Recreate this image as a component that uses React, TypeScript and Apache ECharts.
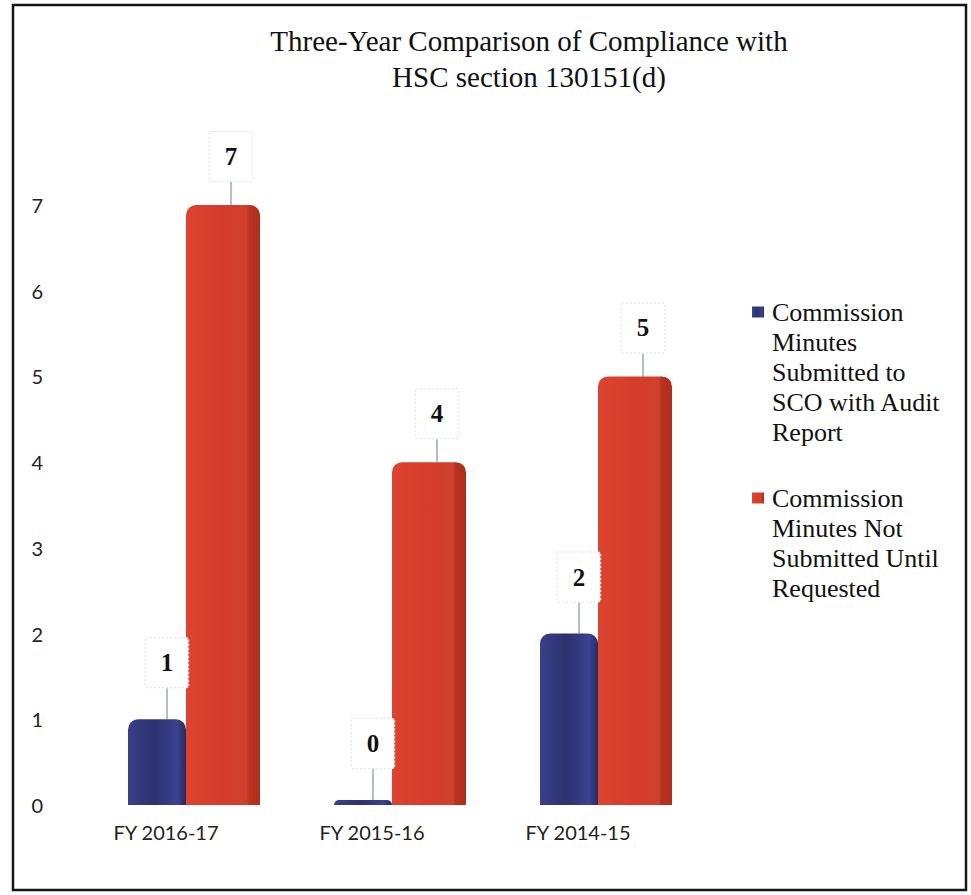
import React, { useEffect, useRef } from "react";
import * as echarts from "echarts";

const categories = ["FY 2016-17", "FY 2015-16", "FY 2014-15"];
const submittedValues = [1, 0, 2];
const notSubmittedValues = [7, 4, 5];
const yTicks = [0, 1, 2, 3, 4, 5, 6, 7];
const seriesNames = [
  "Commission\nMinutes\nSubmitted to\nSCO with Audit\nReport",
  "Commission\nMinutes Not\nSubmitted Until\nRequested",
];
const titleText = "Three-Year Comparison of Compliance with\nHSC section 130151(d)";

export default function App() {
  const ref = useRef<HTMLDivElement>(null);
  useEffect(() => {
    document.body.style.margin = "0";
    const chart = echarts.init(ref.current!, null, { renderer: "svg" });
    const blue = new echarts.graphic.LinearGradient(0, 0, 1, 0, [
      { offset: 0, color: "#3a4088" },
      { offset: 0.45, color: "#2c3170" },
      { offset: 0.85, color: "#3b4290" },
      { offset: 1, color: "#262a5c" },
    ]);
    const red = new echarts.graphic.LinearGradient(0, 0, 1, 0, [
      { offset: 0, color: "#dc4431" },
      { offset: 0.5, color: "#d53c2b" },
      { offset: 0.82, color: "#d0402e" },
      { offset: 0.86, color: "#b8321f" },
      { offset: 1, color: "#b02e1d" },
    ]);
    const labelCommon = {
      show: true,
      position: "top" as const,
      distance: 4,
      formatter: "{c}",
      fontFamily: "Liberation Serif",
      fontWeight: "bold" as const,
      fontSize: 25,
      color: "#111",
      backgroundColor: "#ffffff",
      borderColor: "#e0e0e0",
      borderWidth: 1,
      borderType: "dotted" as const,
      padding: [12, 15, 12, 15],
    };
    const labelLineCommon = {
      show: true,
      lineStyle: { color: "#9aaab8", width: 1.5 },
    };
    chart.setOption({
      animation: false,
      backgroundColor: "#ffffff",
      title: {
        text: titleText,
        left: 524,
        top: 18,
        textAlign: "center",
        textStyle: {
          fontFamily: "Liberation Serif",
          fontWeight: "normal",
          fontSize: 29,
          lineHeight: 36,
          color: "#111",
        },
      },
      legend: {
        orient: "vertical",
        left: 752,
        top: 297,
        padding: 0,
        itemWidth: 12,
        itemHeight: 150,
        itemGap: 21,
        selectedMode: false,
        textStyle: {
          fontFamily: "Liberation Serif",
          fontSize: 26,
          lineHeight: 30,
          color: "#111",
          padding: [0, 0, 0, 3],
        },
        data: [
          {
            name: seriesNames[0],
            icon: "path://M0,0h0.01v0.01h-0.01zM0,9.5h12v11h-12zM0,149.99h0.01v0.01h-0.01z",
          },
          {
            name: seriesNames[1],
            icon: "path://M0,0h0.01v0.01h-0.01zM0,24.5h12v11h-12zM0,149.99h0.01v0.01h-0.01z",
          },
        ],
      },
      grid: { left: 91, right: 262, top: 205, bottom: 90 },
      xAxis: {
        type: "category",
        data: categories,
        axisLine: { show: false },
        axisTick: { show: false },
        axisLabel: {
          fontFamily: "Lato",
          fontSize: 20,
          color: "#222",
          margin: 17,
          padding: [0, 56, 0, 0],
        },
      },
      yAxis: {
        type: "value",
        min: 0,
        max: 7,
        interval: 1,
        axisLine: { show: false },
        axisTick: { show: false },
        splitLine: { show: false },
        axisLabel: {
          fontFamily: "Lato",
          fontSize: 20,
          color: "#222",
          margin: 48,
          formatter: (v: number) => (yTicks.includes(v) ? String(v) : ""),
        },
      },
      series: [
        {
          name: seriesNames[0],
          type: "bar",
          data: submittedValues,
          barWidth: 58,
          barGap: "0%",
          barMinHeight: 5,
          itemStyle: { color: blue, borderRadius: [10, 10, 0, 0] },
          label: labelCommon,
          labelLine: labelLineCommon,
          labelLayout: { dx: 10, dy: -28 },
        },
        {
          name: seriesNames[1],
          type: "bar",
          data: notSubmittedValues,
          barWidth: 74,
          barGap: "0%",
          itemStyle: { color: red, borderRadius: [10, 10, 0, 0] },
          label: labelCommon,
          labelLine: labelLineCommon,
          labelLayout: { dx: 8, dy: -20 },
        },
      ],
      graphic: [
        {
          type: "rect",
          shape: { x: 13, y: 5, width: 953, height: 885 },
          style: { fill: "none", stroke: "#151515", lineWidth: 2.5 },
          silent: true,
        },
      ],
    });
    return () => chart.dispose();
  }, []);
  return <div ref={ref} style={{ width: 971, height: 895 }} />;
}
